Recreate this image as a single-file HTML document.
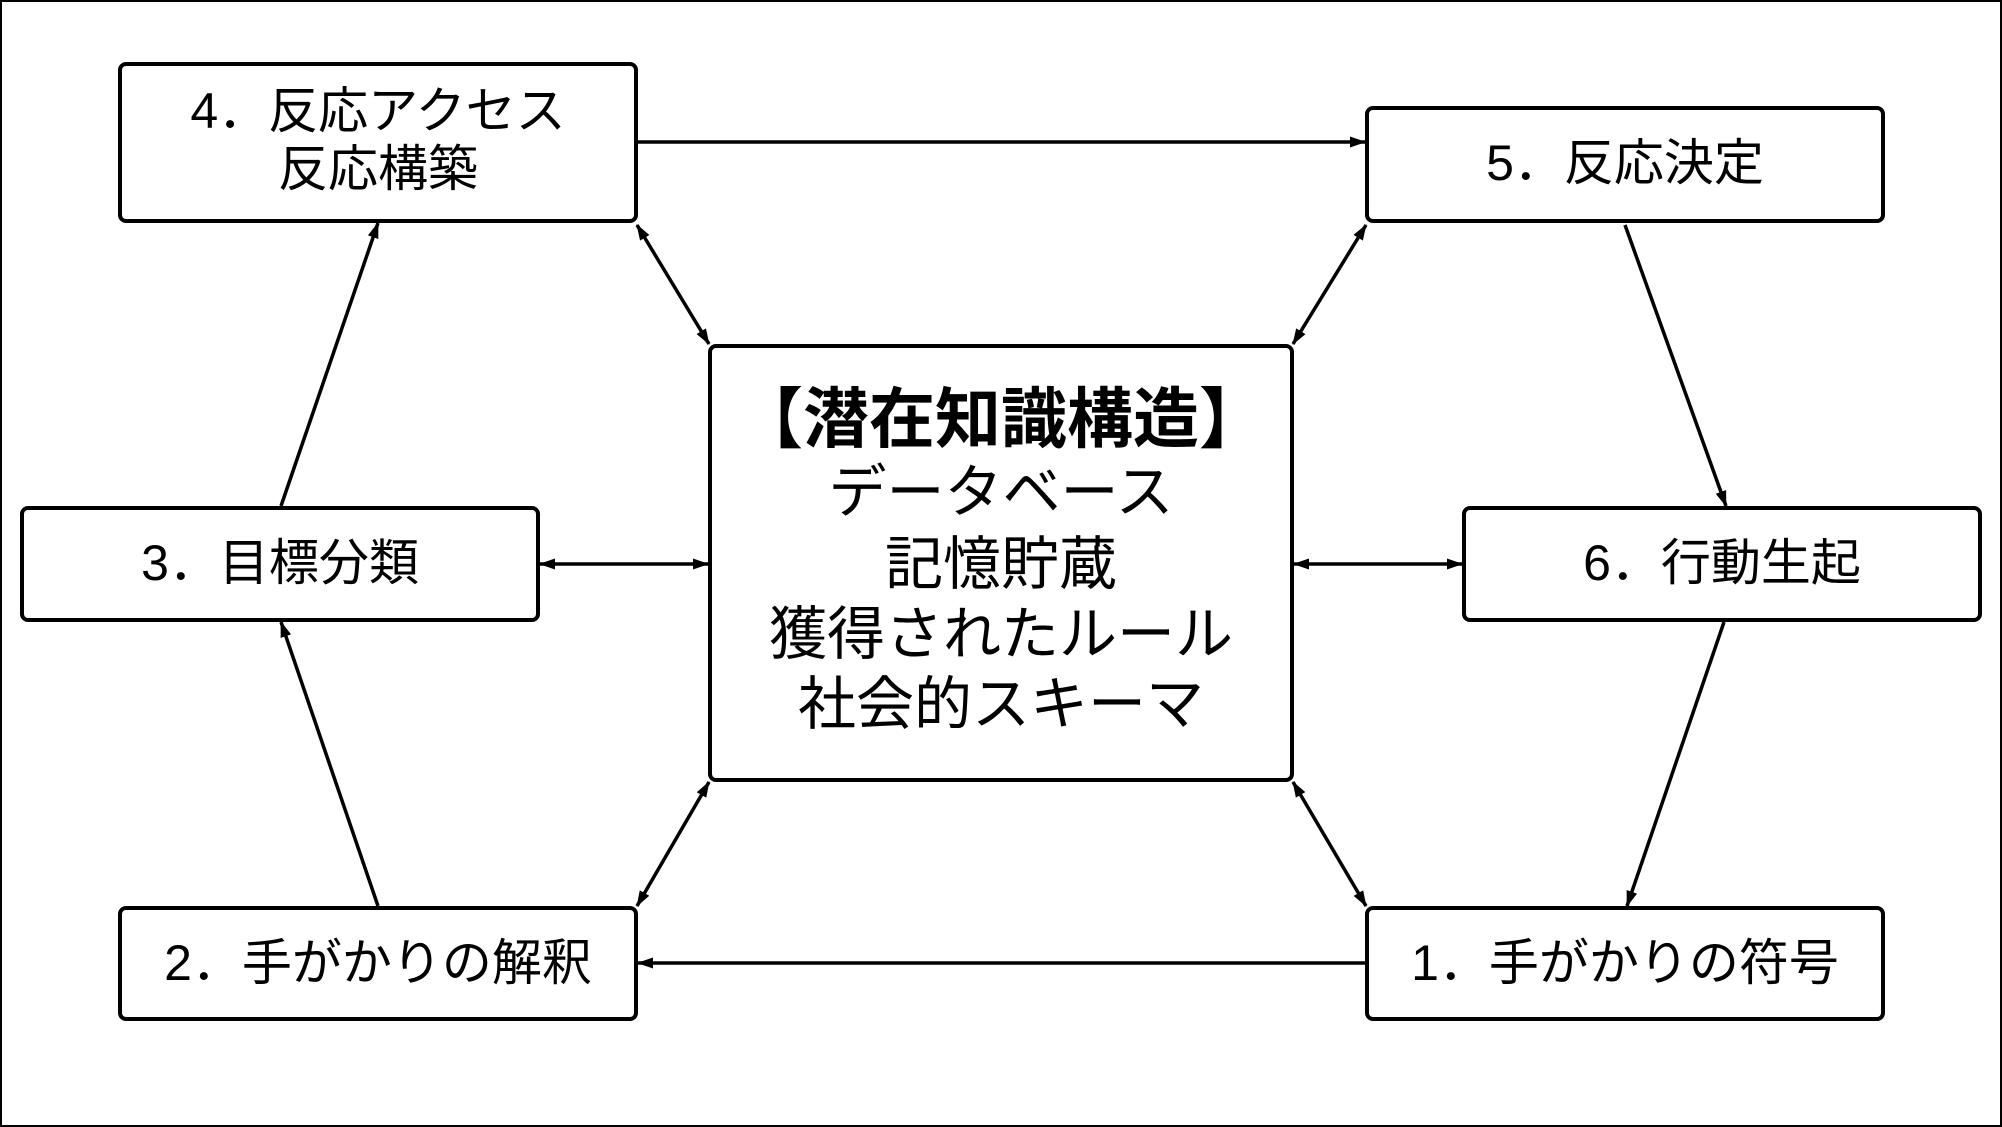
<!DOCTYPE html>
<html><head><meta charset="utf-8"><style>
html,body{margin:0;padding:0;background:#fff}
svg{display:block}
text{font-family:"Liberation Sans","Noto Sans CJK JP",sans-serif;fill:#000;text-anchor:middle}
</style></head><body>
<svg width="2002" height="1127" viewBox="0 0 2002 1127" xmlns="http://www.w3.org/2000/svg">
<defs>
<marker id="a" markerWidth="16" markerHeight="12" refX="15" refY="6" orient="auto-start-reverse" markerUnits="userSpaceOnUse" viewBox="0 0 16 12">
<path d="M0,0.5 L16,6 L0,11.5 z" fill="#000"/></marker>
</defs>
<rect x="1" y="1" width="2000" height="1125" fill="#fff" stroke="#000" stroke-width="2"/>
<g fill="#fff" stroke="#000" stroke-width="4">
<rect x="120" y="64" width="516" height="157" rx="6"/>
<rect x="1367" y="108" width="516" height="113" rx="6"/>
<rect x="22" y="508" width="516" height="112" rx="6"/>
<rect x="1464" y="508" width="516" height="112" rx="6"/>
<rect x="120" y="908" width="516" height="111" rx="6"/>
<rect x="1367" y="908" width="516" height="111" rx="6"/>
<rect x="710" y="346" width="582" height="434" rx="6"/>
</g>
<g stroke="#000" stroke-width="3.5" fill="none">
<line x1="638" y1="142" x2="1365" y2="142" marker-end="url(#a)"/>
<line x1="1625" y1="225" x2="1726" y2="506" marker-end="url(#a)"/>
<line x1="1724" y1="622" x2="1627" y2="906" marker-end="url(#a)"/>
<line x1="1365" y1="963" x2="638" y2="963" marker-end="url(#a)"/>
<line x1="378" y1="906" x2="281" y2="622" marker-end="url(#a)"/>
<line x1="281" y1="506" x2="378" y2="223" marker-end="url(#a)"/>
<line x1="540" y1="564" x2="708" y2="564" marker-start="url(#a)" marker-end="url(#a)"/>
<line x1="1294" y1="564" x2="1462" y2="564" marker-start="url(#a)" marker-end="url(#a)"/>
<line x1="637" y1="225" x2="709" y2="344" marker-start="url(#a)" marker-end="url(#a)"/>
<line x1="1366" y1="225" x2="1293" y2="344" marker-start="url(#a)" marker-end="url(#a)"/>
<line x1="637" y1="906" x2="709" y2="782" marker-start="url(#a)" marker-end="url(#a)"/>
<line x1="1366" y1="906" x2="1293" y2="782" marker-start="url(#a)" marker-end="url(#a)"/>
</g>
<g font-size="50">
<text x="378" y="128">4．反応アクセス</text>
<text x="378" y="186">反応構築</text>
<text x="1625" y="180">5．反応決定</text>
<text x="280" y="580">3．目標分類</text>
<text x="1722" y="580">6．行動生起</text>
<text x="378" y="980">2．手がかりの解釈</text>
<text x="1625" y="980">1．手がかりの符号</text>
</g>
<g font-size="58">
<text x="1001" y="442" font-weight="bold" font-size="66">【潜在知識構造】</text>
<text x="1001" y="512">データベース</text>
<text x="1001" y="584">記憶貯蔵</text>
<text x="1001" y="654">獲得されたルール</text>
<text x="1001" y="724">社会的スキーマ</text>
</g>
</svg>
</body></html>
